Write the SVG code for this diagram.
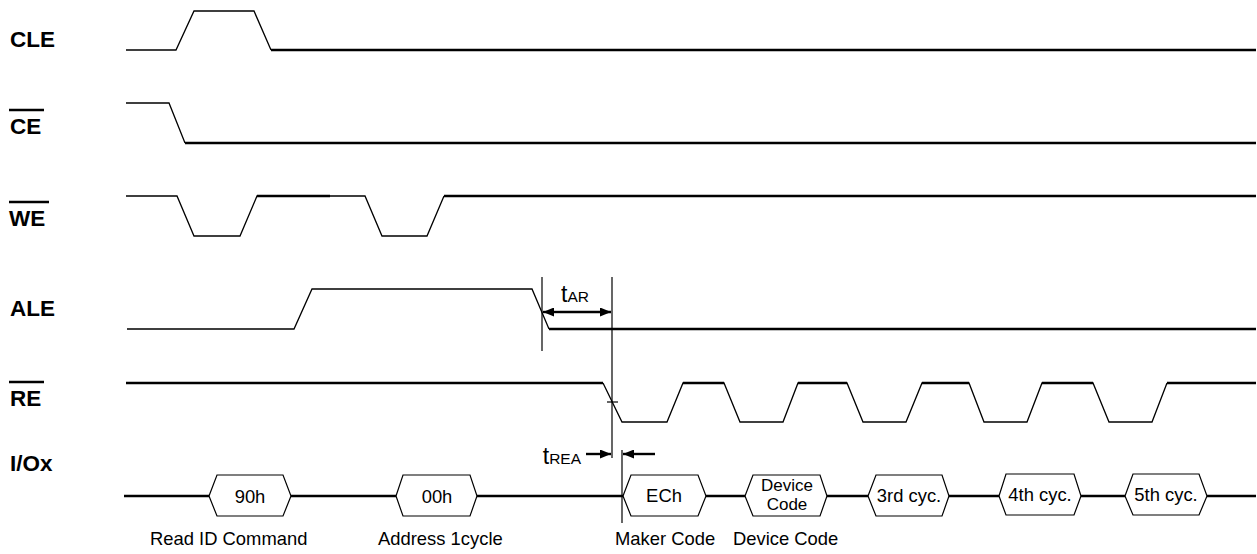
<svg xmlns="http://www.w3.org/2000/svg" width="1257" height="554" viewBox="0 0 1257 554">
<style>
.lbl{font-family:"Liberation Sans",Arial,sans-serif;font-weight:bold;font-size:22.5px;fill:#000}
.txt{font-family:"Liberation Sans",Arial,sans-serif;font-size:18.4px;fill:#000}
.hx{font-family:"Liberation Sans",Arial,sans-serif;font-size:18.4px;fill:#000;text-anchor:middle}
.hs{font-family:"Liberation Sans",Arial,sans-serif;font-size:17px;fill:#000;text-anchor:middle}
.tm{font-family:"Liberation Sans",Arial,sans-serif;font-size:23px;fill:#000}
.thin{fill:none;stroke:#000;stroke-width:1.3;stroke-linejoin:miter}
.thick{fill:none;stroke:#000;stroke-width:2.4}
.ov{stroke:#000;stroke-width:2.6}
.hex{fill:#fff;stroke:#000;stroke-width:1.2}
.tl{stroke:#000;stroke-width:1.2;fill:none}
.ar{stroke:#000;stroke-width:2.4;fill:none}
</style>
<defs>
<marker id="ah" markerWidth="11" markerHeight="9" refX="11" refY="4.5" orient="auto" markerUnits="userSpaceOnUse">
<path d="M0,0 L11,4.5 L0,9 z" fill="#000"/>
</marker>
</defs>

<g id="CLE">
<text class="lbl" x="10" y="47">CLE</text>
<polyline class="thin" points="126,50 176,50 194,11 254,11 271,50"/>
<line class="thick" x1="271" y1="50" x2="1256" y2="50"/>
</g>

<g id="CE">
<line class="ov" x1="9" y1="110" x2="44" y2="110"/>
<text class="lbl" x="10" y="134">CE</text>
<polyline class="thin" points="126,103 169,103 185,143"/>
<line class="thick" x1="185" y1="143" x2="1256" y2="143"/>
</g>

<g id="WE">
<line class="ov" x1="9" y1="202" x2="49" y2="202"/>
<text class="lbl" x="9" y="226">WE</text>
<polyline class="thin" points="126,196 177,196 194,236 240,236 257,196 365,196 382,236 427,236 444,196"/>
<line class="thick" x1="257" y1="196" x2="330" y2="196"/>
<line class="thick" x1="444" y1="196" x2="1256" y2="196"/>
</g>

<g id="ALE">
<text class="lbl" x="10" y="316">ALE</text>
<polyline class="thin" points="127,329 294,329 312,289 532,289 549,329"/>
<line class="thick" x1="549" y1="329" x2="1256" y2="329"/>
</g>

<g id="RE">
<line class="ov" x1="9" y1="382" x2="44" y2="382"/>
<text class="lbl" x="10" y="406">RE</text>
<polyline class="thin" points="603,383 622,422 667,422 683,383 724,383 740,422 783,422 798,383 847,383 863,422 906,422 922,383 969,383 984,422 1027,422 1042,383 1093,383 1109,422 1152,422 1167,383"/>
<line class="thick" x1="126" y1="383" x2="603" y2="383"/>
<line class="thick" x1="683" y1="383" x2="724" y2="383"/>
<line class="thick" x1="798" y1="383" x2="847" y2="383"/>
<line class="thick" x1="922" y1="383" x2="969" y2="383"/>
<line class="thick" x1="1042" y1="383" x2="1093" y2="383"/>
<line class="thick" x1="1167" y1="383" x2="1256" y2="383"/>
</g>

<g id="IO">
<text class="lbl" x="10" y="471">I/Ox</text>
<line class="thick" x1="124" y1="496" x2="1256" y2="496"/>
</g>

<g id="io-90h">
<polygon class="hex" points="209,496 217,475 283,475 291,496 283,516 217,516"/>
<text class="hx" x="250" y="503">90h</text>
<text class="txt" x="150" y="545">Read ID Command</text>
</g>
<g id="io-00h">
<polygon class="hex" points="396,496 403,475 470,475 477,496 470,516 403,516"/>
<text class="hx" x="437" y="503">00h</text>
<text class="txt" x="378" y="545">Address 1cycle</text>
</g>
<g id="io-ECh">
<polygon class="hex" points="623,496 631,475 698,475 706,496 698,516 631,516"/>
<text class="hx" x="664" y="502">ECh</text>
<text class="txt" x="615" y="545">Maker Code</text>
</g>
<g id="io-device">
<polygon class="hex" points="745,496 753,475 820,475 827,496 820,516 753,516"/>
<text class="hs" x="787" y="491">Device</text>
<text class="hs" x="787" y="510">Code</text>
<text class="txt" x="733" y="545">Device Code</text>
</g>
<g id="io-3rd">
<polygon class="hex" points="868,496 876,475 942,475 949,496 942,516 876,516"/>
<text class="hx" x="909" y="502">3rd cyc.</text>
</g>
<g id="io-4th">
<polygon class="hex" points="999,496 1006,474 1074,474 1081,496 1074,515 1006,515"/>
<text class="hx" x="1040" y="501">4th cyc.</text>
</g>
<g id="io-5th">
<polygon class="hex" points="1125,496 1133,474 1199,474 1207,496 1199,515 1133,515"/>
<text class="hx" x="1166" y="501">5th cyc.</text>
</g>

<g id="connectors">
<line class="tl" x1="542" y1="277" x2="542" y2="351"/>
<line class="tl" x1="612" y1="277" x2="612" y2="458"/>
<line class="tl" x1="622" y1="450" x2="622" y2="523"/>
<line class="tl" x1="607" y1="402" x2="618" y2="402"/>
<line class="ar" x1="560" y1="312" x2="543" y2="312" marker-end="url(#ah)"/>
<line class="ar" x1="560" y1="312" x2="611" y2="312" marker-end="url(#ah)"/>
<text class="tm" x="561" y="302">t<tspan font-size="15.5">AR</tspan></text>
<line class="ar" x1="586" y1="454" x2="611" y2="454" marker-end="url(#ah)"/>
<line class="ar" x1="655" y1="454" x2="623" y2="454" marker-end="url(#ah)"/>
<text class="tm" x="581" y="464" text-anchor="end">t<tspan font-size="15.5">REA</tspan></text>
</g>
</svg>
